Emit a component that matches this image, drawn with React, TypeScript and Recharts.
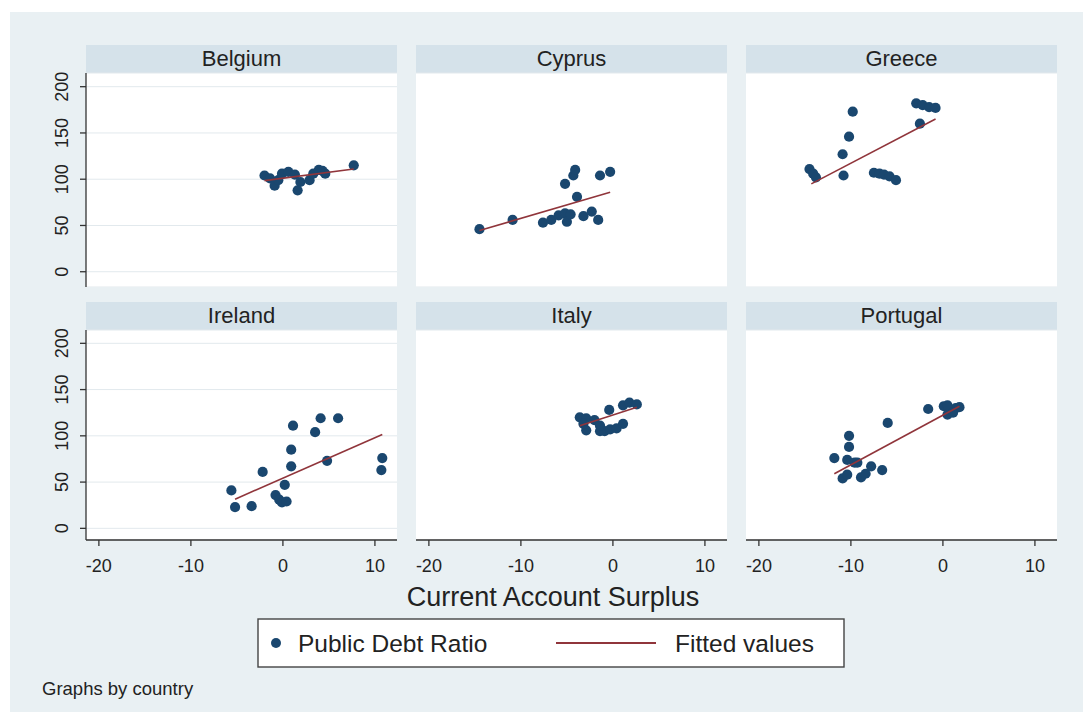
import React from 'react';
import { ComposedChart, Scatter, XAxis, YAxis, CartesianGrid } from 'recharts';

// ---------- data ----------
const countries = ['Belgium', 'Cyprus', 'Greece', 'Ireland', 'Italy', 'Portugal'];
const xTicks = [-20, -10, 0, 10];
const yTicks = [0, 50, 100, 150, 200];
const xAxisTitle = 'Current Account Surplus';
const legendLabels = ['Public Debt Ratio', 'Fitted values'];
const noteText = 'Graphs by country';

const belgiumDebt = [
  { x: -2.0, y: 104 }, { x: -1.4, y: 101 }, { x: -0.9, y: 93 }, { x: -0.5, y: 99 },
  { x: -0.1, y: 106 }, { x: 0.6, y: 108 }, { x: 1.3, y: 105 }, { x: 1.9, y: 97 },
  { x: 1.6, y: 88 }, { x: 2.9, y: 99 }, { x: 3.3, y: 106 }, { x: 3.9, y: 110 },
  { x: 4.3, y: 109 }, { x: 4.6, y: 106 }, { x: 7.7, y: 115 },
];
const belgiumFit = [{ x: -2.0, y: 98.5 }, { x: 7.7, y: 111 }];

const cyprusDebt = [
  { x: -14.5, y: 46 }, { x: -10.9, y: 56 }, { x: -7.6, y: 53 }, { x: -6.7, y: 56 },
  { x: -5.9, y: 61 }, { x: -5.2, y: 63 }, { x: -5.0, y: 54 }, { x: -4.6, y: 62 },
  { x: -3.9, y: 81 }, { x: -5.2, y: 95 }, { x: -4.3, y: 104 }, { x: -4.1, y: 110 },
  { x: -3.2, y: 60 }, { x: -2.3, y: 65 }, { x: -1.6, y: 56 }, { x: -1.4, y: 104 },
  { x: -0.3, y: 108 },
];
const cyprusFit = [{ x: -14.5, y: 44.5 }, { x: -0.3, y: 86 }];

const greeceDebt = [
  { x: -14.5, y: 111 }, { x: -14.1, y: 106 }, { x: -13.8, y: 102 }, { x: -10.8, y: 104 },
  { x: -10.9, y: 127 }, { x: -10.2, y: 146 }, { x: -9.8, y: 173 }, { x: -7.5, y: 107 },
  { x: -6.9, y: 106 }, { x: -6.4, y: 105 }, { x: -5.8, y: 103 }, { x: -5.1, y: 99 },
  { x: -2.9, y: 182 }, { x: -2.2, y: 180 }, { x: -1.5, y: 178 }, { x: -0.8, y: 177 },
  { x: -2.5, y: 160 },
];
const greeceFit = [{ x: -14.3, y: 95 }, { x: -0.8, y: 165 }];

const irelandDebt = [
  { x: -5.6, y: 41 }, { x: -5.2, y: 23 }, { x: -3.4, y: 24 }, { x: -2.2, y: 61 },
  { x: -0.8, y: 36 }, { x: -0.4, y: 31 }, { x: -0.1, y: 28 }, { x: 0.4, y: 29 },
  { x: 0.2, y: 47 }, { x: 0.9, y: 67 }, { x: 0.9, y: 85 }, { x: 1.1, y: 111 },
  { x: 3.5, y: 104 }, { x: 4.1, y: 119 }, { x: 6.0, y: 119 }, { x: 4.8, y: 73 },
  { x: 10.8, y: 76 }, { x: 10.7, y: 63 },
];
const irelandFit = [{ x: -5.2, y: 31.5 }, { x: 10.8, y: 101.5 }];

const italyDebt = [
  { x: -3.6, y: 120 }, { x: -2.9, y: 119 }, { x: -2.0, y: 117 }, { x: -3.2, y: 113 },
  { x: -2.9, y: 106 }, { x: -1.4, y: 105 }, { x: -0.9, y: 105 }, { x: -0.3, y: 107 },
  { x: 0.4, y: 108 }, { x: 1.1, y: 113 }, { x: -0.4, y: 128 }, { x: 1.1, y: 133 },
  { x: 1.8, y: 136 }, { x: 2.6, y: 134 }, { x: -1.4, y: 111 },
];
const italyFit = [{ x: -3.6, y: 111 }, { x: 2.6, y: 131 }];

const portugalDebt = [
  { x: -11.8, y: 76 }, { x: -10.9, y: 54 }, { x: -10.4, y: 58 }, { x: -10.4, y: 74 },
  { x: -10.2, y: 88 }, { x: -10.2, y: 100 }, { x: -9.6, y: 71 }, { x: -9.3, y: 71 },
  { x: -8.9, y: 55 }, { x: -8.4, y: 59 }, { x: -7.8, y: 67 }, { x: -6.6, y: 63 },
  { x: -6.0, y: 114 }, { x: -1.6, y: 129 }, { x: 0.1, y: 132 }, { x: 0.5, y: 123 },
  { x: 0.9, y: 128 }, { x: 1.4, y: 130 }, { x: 1.8, y: 131 }, { x: 0.5, y: 133 },
  { x: 1.1, y: 125 },
];
const portugalFit = [{ x: -11.8, y: 59 }, { x: 1.8, y: 132 }];

const panelDebt = [belgiumDebt, cyprusDebt, greeceDebt, irelandDebt, italyDebt, portugalDebt];
const panelFit = [belgiumFit, cyprusFit, greeceFit, irelandFit, italyFit, portugalFit];

// ---------- styles ----------
const FONT = '"Liberation Sans", Arial, Helvetica, sans-serif';
const NAVY = '#1a476f';
const MAROON = '#90353b';
const BG = '#e9f0f3';
const STRIP = '#d5e2ea';
const GRID = '#e2e9ed';
const AXIS = '#333333';
const TEXT = '#222222';

const PANEL_W = 311;
const COL_X = [86, 416, 746];
const TOP_PAD = 24;
const ROWS = [
  { headerTop: 45, plotH: 214, domain: [-16.5, 214.8], axis: false },
  { headerTop: 302, plotH: 210, domain: [-12.6, 214.4], axis: true },
];
const X_DOMAIN = [-21.4, 12.4];

const Dot = (props: any) => {
  const { cx, cy } = props;
  if (cx == null || cy == null) return <g />;
  return <circle cx={cx} cy={cy} r={5.1} fill={NAVY} />;
};
const NoShape = () => <g />;

const YTick = (props: any) => {
  const { x, y, payload } = props;
  return (
    <text
      x={x}
      y={y}
      transform={`rotate(-90 ${x} ${y})`}
      textAnchor="middle"
      fontSize={18}
      fontFamily={FONT}
      fill={TEXT}
    >
      {payload.value}
    </text>
  );
};

function Panel({ idx }: { idx: number }) {
  const col = idx % 3;
  const row = Math.floor(idx / 3);
  const r = ROWS[row];
  const isLeft = col === 0;
  const yW = isLeft ? 80 : 0;
  const axisH = r.axis ? 45 : 0;
  return (
    <div
      style={{
        position: 'absolute',
        left: COL_X[col] - yW,
        top: r.headerTop,
        width: PANEL_W + yW,
      }}
    >
      <div
        style={{
          marginLeft: yW,
          width: PANEL_W,
          height: 28,
          lineHeight: '28px',
          background: STRIP,
          textAlign: 'center',
          fontFamily: FONT,
          fontSize: 22,
          color: TEXT,
        }}
      >
        {countries[idx]}
      </div>
      <div style={{ marginTop: -TOP_PAD, position: 'relative' }}>
        <ComposedChart
          width={PANEL_W + yW}
          height={r.plotH + axisH + TOP_PAD}
          margin={{ top: TOP_PAD, right: 0, bottom: 0, left: 0 }}
        >
          <CartesianGrid vertical={false} fill="#ffffff" fillOpacity={1} stroke={GRID} strokeWidth={1} />
          <XAxis
            type="number"
            dataKey="x"
            domain={X_DOMAIN}
            ticks={xTicks}
            allowDataOverflow
            hide={!r.axis}
            height={45}
            axisLine={{ stroke: AXIS, strokeWidth: 1.3 }}
            tickLine={{ stroke: AXIS, strokeWidth: 1.3 }}
            tickSize={6}
            tickMargin={13}
            tick={{ fontSize: 18, fontFamily: FONT, fill: TEXT }}
          />
          {isLeft ? (
            <YAxis
              type="number"
              dataKey="y"
              domain={r.domain}
              ticks={yTicks}
              allowDataOverflow
              width={yW}
              axisLine={{ stroke: AXIS, strokeWidth: 1.3 }}
              tickLine={{ stroke: AXIS, strokeWidth: 1.3 }}
              tickSize={6}
              tickMargin={12}
              tick={<YTick />}
            />
          ) : (
            <YAxis
              type="number"
              dataKey="y"
              domain={r.domain}
              ticks={yTicks}
              allowDataOverflow
              width={0}
              axisLine={false}
              tickLine={false}
              tick={false}
            />
          )}
          <Scatter data={panelDebt[idx]} shape={Dot} isAnimationActive={false} />
          <Scatter
            data={panelFit[idx]}
            shape={NoShape}
            line={{ stroke: MAROON, strokeWidth: 1.6 }}
            isAnimationActive={false}
          />
        </ComposedChart>
      </div>
    </div>
  );
}

export default function App() {
  return (
    <div style={{ position: 'absolute', left: 0, top: 0, width: 1083, height: 722, background: '#ffffff', overflow: 'hidden' }}>
      <svg width={1083} height={722} style={{ position: 'absolute', left: 0, top: 0 }}>
        <rect x={10} y={12} width={1073} height={700} fill={BG} />
        <text x={553} y={606} textAnchor="middle" fontSize={27} fontFamily={FONT} fill={TEXT}>
          {xAxisTitle}
        </text>
        <rect x={258} y={619} width={586} height={48} fill="#ffffff" stroke="#444" strokeWidth={1.4} />
        <circle cx={276} cy={643} r={5} fill={NAVY} />
        <text x={298} y={652} fontSize={24.5} fontFamily={FONT} fill={TEXT}>
          {legendLabels[0]}
        </text>
        <line x1={556} y1={643} x2={656} y2={643} stroke={MAROON} strokeWidth={2} />
        <text x={675} y={652} fontSize={24.5} fontFamily={FONT} fill={TEXT}>
          {legendLabels[1]}
        </text>
        <text x={42} y={695} fontSize={18.5} fontFamily={FONT} fill={TEXT}>
          {noteText}
        </text>
      </svg>
      {countries.map((_, i) => (
        <Panel key={i} idx={i} />
      ))}
    </div>
  );
}
